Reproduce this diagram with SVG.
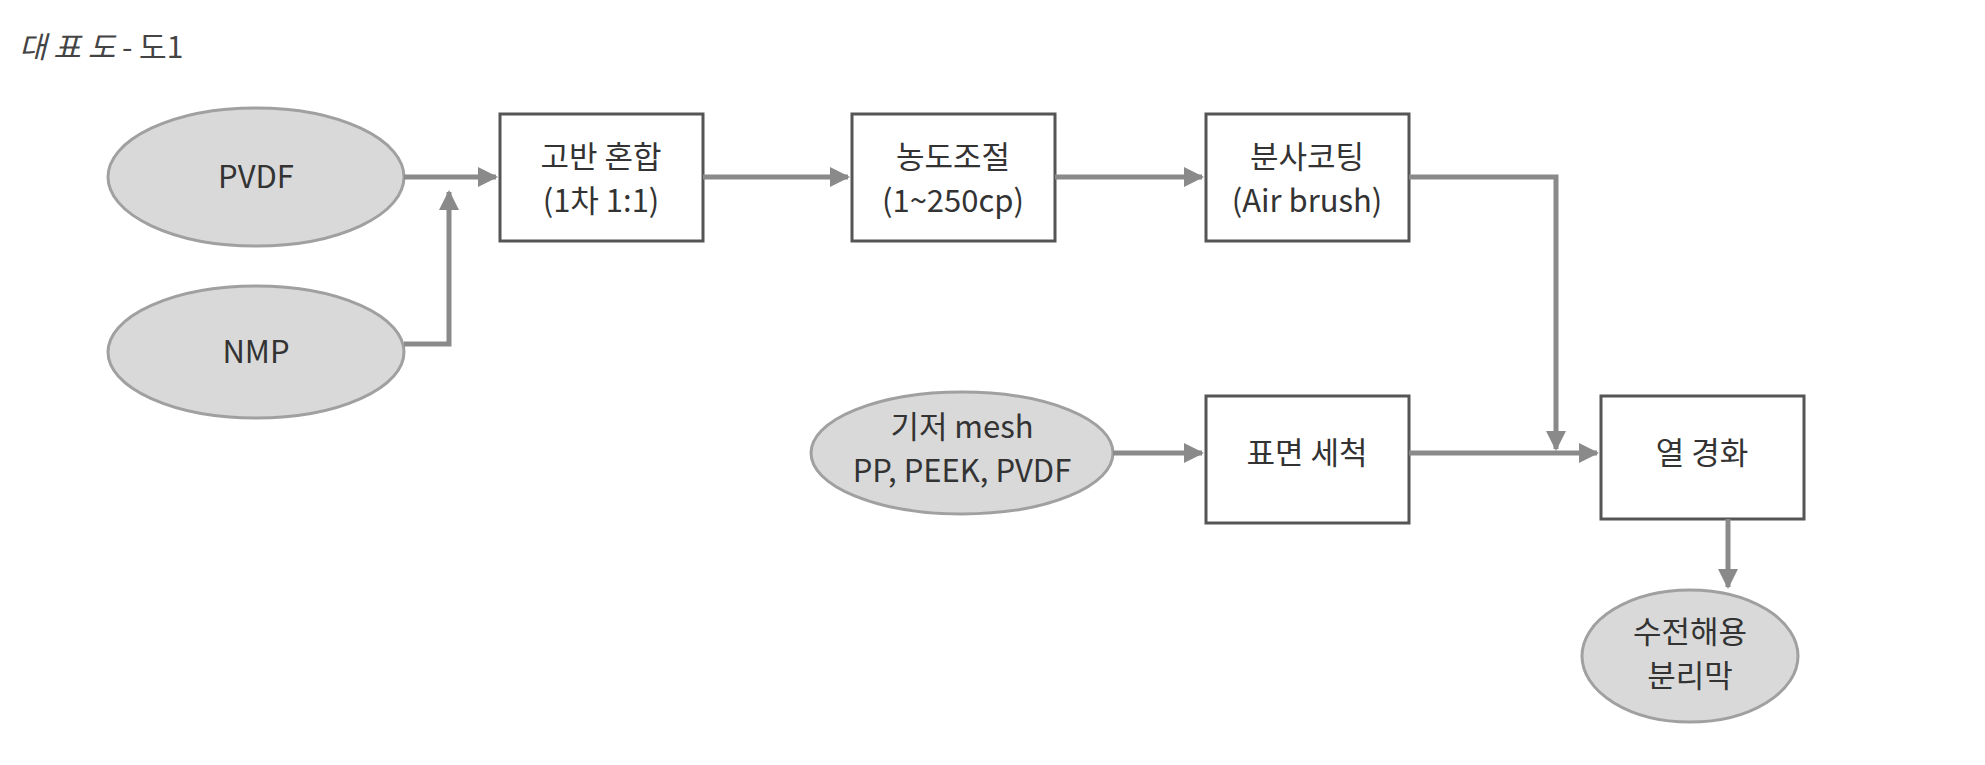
<svg xmlns="http://www.w3.org/2000/svg" width="1985" height="765" viewBox="0 0 1985 765">
<style>
.el{fill:#d9d9d9;stroke:#a0a0a0;stroke-width:3}
.bx{fill:#fff;stroke:#555;stroke-width:3}
.t{font-family:"Noto Sans CJK KR","Liberation Sans",sans-serif;font-size:31px;fill:#333;text-anchor:middle}
.c{fill:none;stroke:#8a8a8a;stroke-width:5}
</style>
<defs><marker id="a" viewBox="0 0 10 10" refX="9" refY="5" markerWidth="4" markerHeight="4" orient="auto"><path d="M0,0L10,5L0,10z" fill="#8a8a8a"/></marker></defs>
<text x="19" y="58" font-family="'Noto Sans CJK KR',serif" font-size="30" fill="#444"><tspan font-style="italic">대 표 도</tspan> - 도1</text>
<g id="pvdf"><ellipse class="el" cx="256" cy="177" rx="148" ry="69"/><text class="t" x="256" y="188">PVDF</text></g>
<g id="nmp"><ellipse class="el" cx="256" cy="352" rx="148" ry="66"/><text class="t" x="256" y="363">NMP</text></g>
<g id="mix"><rect class="bx" x="500" y="114" width="203" height="127"/><text class="t" x="601" y="168">고반 혼합</text><text class="t" x="601" y="212">(1차 1:1)</text></g>
<g id="conc"><rect class="bx" x="852" y="114" width="203" height="127"/><text class="t" x="953" y="168">농도조절</text><text class="t" x="953" y="212">(1~250cp)</text></g>
<g id="spray"><rect class="bx" x="1206" y="114" width="203" height="127"/><text class="t" x="1307" y="168">분사코팅</text><text class="t" x="1307" y="212">(Air brush)</text></g>
<g id="mesh"><ellipse class="el" cx="962" cy="453" rx="151" ry="61"/><text class="t" x="962" y="438" font-size="25">기저 mesh</text><text class="t" x="962" y="482" font-size="25">PP, PEEK, PVDF</text></g>
<g id="clean"><rect class="bx" x="1206" y="396" width="203" height="127"/><text class="t" x="1307" y="464">표면 세척</text></g>
<g id="cure"><rect class="bx" x="1601" y="396" width="203" height="123"/><text class="t" x="1702" y="464">열 경화</text></g>
<g id="membrane"><ellipse class="el" cx="1690" cy="656" rx="108" ry="66"/><text class="t" x="1690" y="643">수전해용</text><text class="t" x="1690" y="687">분리막</text></g>
<g id="connectors">
<path class="c" d="M404,177H496" marker-end="url(#a)"/>
<path class="c" d="M404,344H449V192" marker-end="url(#a)"/>
<path class="c" d="M703,177H848" marker-end="url(#a)"/>
<path class="c" d="M1055,177H1202" marker-end="url(#a)"/>
<path class="c" d="M1409,177H1556V449" marker-end="url(#a)"/>
<path class="c" d="M1113,453H1202" marker-end="url(#a)"/>
<path class="c" d="M1409,453H1597" marker-end="url(#a)"/>
<path class="c" d="M1728,519V587" marker-end="url(#a)"/>
</g>
</svg>
